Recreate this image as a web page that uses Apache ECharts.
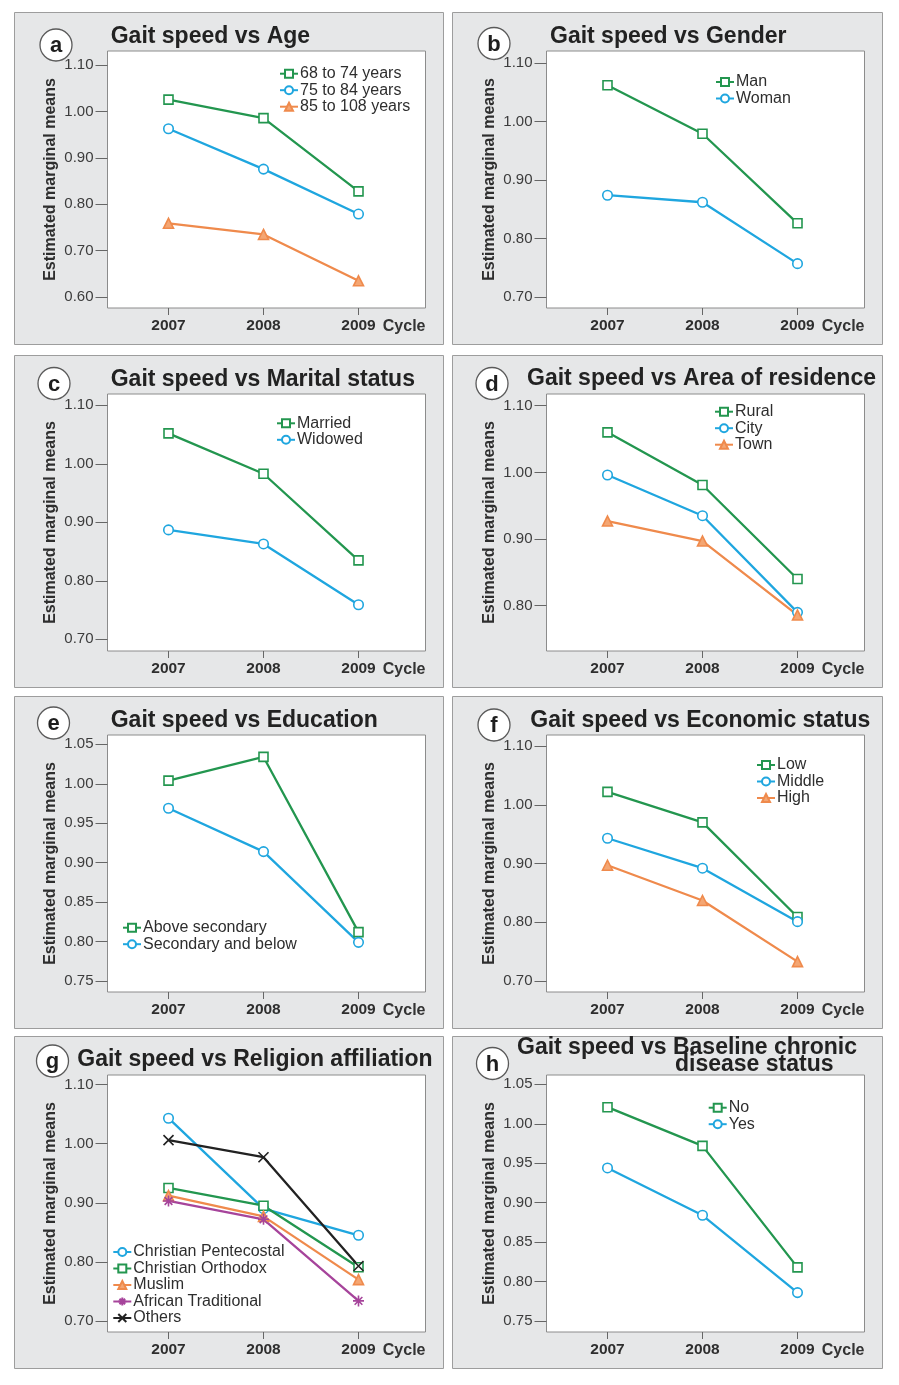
<!DOCTYPE html>
<html><head><meta charset="utf-8">
<script src="https://cdn.jsdelivr.net/npm/echarts@6/dist/echarts.min.js"></script>
<style>html,body{margin:0;padding:0;background:#fff}#c{width:899px;height:1385px}</style>
</head><body><div id="c"></div>
<script>
// ---------------- DATA ----------------
const cycles = ['2007', '2008', '2009'];

// a — Age
const age68to74 = [1.026, 0.986, 0.828];
const age75to84 = [0.963, 0.876, 0.779];
const age85to108 = [0.759, 0.735, 0.635];
const ageTicks = [0.60, 0.70, 0.80, 0.90, 1.00, 1.10];

// b — Gender
const genderMan = [1.062, 0.979, 0.826];
const genderWoman = [0.874, 0.862, 0.757];
const genderTicks = [0.70, 0.80, 0.90, 1.00, 1.10];

// c — Marital status
const maritalMarried = [1.052, 0.983, 0.835];
const maritalWidowed = [0.887, 0.863, 0.759];
const maritalTicks = [0.70, 0.80, 0.90, 1.00, 1.10];

// d — Area of residence
const areaRural = [1.060, 0.981, 0.840];
const areaCity = [0.996, 0.935, 0.790];
const areaTown = [0.927, 0.897, 0.786];
const areaTicks = [0.80, 0.90, 1.00, 1.10];

// e — Education
const eduAbove = [1.004, 1.034, 0.812];
const eduBelow = [0.969, 0.914, 0.799];
const eduTicks = [0.75, 0.80, 0.85, 0.90, 0.95, 1.00, 1.05];

// f — Economic status
const econLow = [1.022, 0.970, 0.809];
const econMiddle = [0.943, 0.892, 0.801];
const econHigh = [0.897, 0.837, 0.733];
const econTicks = [0.70, 0.80, 0.90, 1.00, 1.10];

// g — Religion affiliation
const relPentecostal = [1.043, 0.890, 0.845];
const relOrthodox = [0.925, 0.895, 0.791];
const relMuslim = [0.912, 0.877, 0.770];
const relAfrican = [0.903, 0.872, 0.734];
const relOthers = [1.006, 0.977, 0.793];
const relTicks = [0.70, 0.80, 0.90, 1.00, 1.10];

// h — Baseline chronic disease status
const chronicNo = [1.021, 0.972, 0.818];
const chronicYes = [0.944, 0.884, 0.786];
const chronicTicks = [0.75, 0.80, 0.85, 0.90, 0.95, 1.00, 1.05];

const panels = [
  { letter: 'a', title: ['Gait speed vs Age'], ticks: ageTicks, series: [
    ['68 to 74 years', age68to74, 'green'], ['75 to 84 years', age75to84, 'blue'], ['85 to 108 years', age85to108, 'orange']] },
  { letter: 'b', title: ['Gait speed vs Gender'], ticks: genderTicks, series: [
    ['Man', genderMan, 'green'], ['Woman', genderWoman, 'blue']] },
  { letter: 'c', title: ['Gait speed vs Marital status'], ticks: maritalTicks, series: [
    ['Married', maritalMarried, 'green'], ['Widowed', maritalWidowed, 'blue']] },
  { letter: 'd', title: ['Gait speed vs Area of residence'], ticks: areaTicks, series: [
    ['Rural', areaRural, 'green'], ['City', areaCity, 'blue'], ['Town', areaTown, 'orange']] },
  { letter: 'e', title: ['Gait speed vs Education'], ticks: eduTicks, series: [
    ['Above secondary', eduAbove, 'green'], ['Secondary and below', eduBelow, 'blue']] },
  { letter: 'f', title: ['Gait speed vs Economic status'], ticks: econTicks, series: [
    ['Low', econLow, 'green'], ['Middle', econMiddle, 'blue'], ['High', econHigh, 'orange']] },
  { letter: 'g', title: ['Gait speed vs Religion affiliation'], ticks: relTicks, series: [
    ['Christian Pentecostal', relPentecostal, 'blue'], ['Christian Orthodox', relOrthodox, 'green'],
    ['Muslim', relMuslim, 'orange'], ['African Traditional', relAfrican, 'purple'], ['Others', relOthers, 'black']] },
  { letter: 'h', title: ['Gait speed vs Baseline chronic', 'disease status'], ticks: chronicTicks, series: [
    ['No', chronicNo, 'green'], ['Yes', chronicYes, 'blue']] }
];

// ---------------- LAYOUT / STYLE ----------------
const FONT = '"Liberation Sans", Arial, Helvetica, sans-serif';
const colX = [14, 452];
const rowY = [12, 355, 696, 1036];
const panelW = [429, 430];
const panelH = 332;
const boxLeft = [93.5, 94.5];
const boxTop = 39, boxW = 318, boxH = 257;
const x2007 = 61, x2009 = 251;

const layout = [
  { col: 0, row: 0, tickPx: [53.3, 285], legend: [265, 61.7], title: [[96.7, 25]], letter: [42, 33] },
  { col: 1, row: 0, tickPx: [51, 285], legend: [263, 70], title: [[98, 25]], letter: [42, 31.5] },
  { col: 0, row: 1, tickPx: [50.3, 284.3], legend: [262, 68.3], title: [[96.7, 25]], letter: [40, 28.5] },
  { col: 1, row: 1, tickPx: [50.7, 250.7], legend: [262, 56.7], title: [[75, 23.3]], letter: [40, 28.5] },
  { col: 0, row: 2, tickPx: [48.3, 285], legend: [108, 231.7], title: [[96.7, 25]], letter: [39.5, 27] },
  { col: 1, row: 2, tickPx: [50, 285], legend: [304, 69], title: [[78.3, 25]], letter: [42, 29] },
  { col: 0, row: 3, tickPx: [48.5, 285], legend: [98.3, 216], title: [[63.3, 23.3]], letter: [38.5, 25] },
  { col: 1, row: 3, tickPx: [48.3, 285], legend: [255.7, 71.7], title: [[65, 11.7], [223, 29]], letter: [40.5, 27.5] }
];

const STY = {
  green:  { color: '#23964f', fill: '#ffffff', symbol: 'rect', size: 9 },
  blue:   { color: '#1fa6df', fill: '#ffffff', symbol: 'circle', size: 9.5 },
  orange: { color: '#ef8a4c', fill: '#f4a673', symbol: 'triangle', size: 10 },
  purple: { color: '#a6449b', fill: '#a6449b', symbol: 'path://M5,0L5,10M0,5L10,5M1.5,1.5L8.5,8.5M8.5,1.5L1.5,8.5', size: 11 },
  black:  { color: '#222222', fill: '#222222', symbol: 'path://M0,0L10,10M10,0L0,10', size: 10 }
};

// ---------------- BUILD OPTION ----------------
const option = {
  backgroundColor: '#ffffff',
  animation: false,
  textStyle: { fontFamily: FONT },
  title: [], grid: [], xAxis: [], yAxis: [], legend: [], series: [], graphic: []
};

const yearsNum = cycles.map(Number);

panels.forEach((p, i) => {
  const L = layout[i];
  const ox = colX[L.col], oy = rowY[L.row];
  const bl = boxLeft[L.col];

  option.graphic.push({ type: 'rect', z: -10, silent: true,
    shape: { x: ox + 0.5, y: oy + 0.5, width: panelW[L.col], height: panelH },
    style: { fill: '#e6e7e8', stroke: '#9d9d9d', lineWidth: 1 } });

  option.graphic.push({ type: 'circle', z: 50, silent: true,
    shape: { cx: ox + L.letter[0], cy: oy + L.letter[1], r: 16 },
    style: { fill: '#ffffff', stroke: '#5a5a5a', lineWidth: 1.3 } });
  option.graphic.push({ type: 'text', z: 51, silent: true,
    x: ox + L.letter[0], y: oy + L.letter[1] + 1,
    style: { text: p.letter, fill: '#1e1e1e', font: 'bold 22px ' + FONT, align: 'center', verticalAlign: 'middle' } });

  option.graphic.push({ type: 'text', z: 51, silent: true,
    x: ox + bl + boxW, y: oy + 315,
    style: { text: 'Cycle', fill: '#333333', font: 'bold 16px ' + FONT, align: 'right', verticalAlign: 'middle' } });

  p.title.forEach((t, k) => {
    option.title.push({ text: t, left: ox + L.title[k][0], top: oy + L.title[k][1] - 12, padding: 0,
      textStyle: { fontSize: 23, fontWeight: 'bold', color: '#222222', fontFamily: FONT, lineHeight: 24 } });
  });

  const tv = p.ticks;
  const vTop = tv[tv.length - 1], vBot = tv[0];
  const ppu = (L.tickPx[1] - L.tickPx[0]) / (vTop - vBot);
  const yMax = vTop + (L.tickPx[0] - boxTop) / ppu;
  const yMin = vBot - (boxTop + boxH - L.tickPx[1]) / ppu;
  const xppu = (x2009 - x2007) / (yearsNum[2] - yearsNum[0]);
  const xMin = yearsNum[0] - x2007 / xppu;
  const xMax = yearsNum[2] + (boxW - x2009) / xppu;

  option.grid.push({ left: ox + bl, top: oy + boxTop, width: boxW, height: boxH, show: true,
    backgroundColor: '#ffffff', borderColor: '#8c8c8c', borderWidth: 1, containLabel: false });

  option.xAxis.push({ type: 'value', gridIndex: i, min: xMin, max: xMax,
    axisLine: { show: false }, splitLine: { show: false },
    axisTick: { show: true, length: 7, customValues: yearsNum, lineStyle: { color: '#666666', width: 1 } },
    axisLabel: { customValues: yearsNum, formatter: v => String(Math.round(v)), margin: 10,
      fontSize: 15.5, fontWeight: 'bold', color: '#2e2e2e', fontFamily: FONT } });

  option.yAxis.push({ type: 'value', gridIndex: i, min: yMin, max: yMax,
    name: 'Estimated marginal means', nameLocation: 'middle', nameGap: 49,
    nameTextStyle: { fontSize: 16, fontWeight: 'bold', color: '#2e2e2e', fontFamily: FONT },
    axisLine: { show: false }, splitLine: { show: false },
    axisTick: { show: true, length: 12, customValues: tv, lineStyle: { color: '#666666', width: 1 } },
    axisLabel: { customValues: tv, formatter: v => v.toFixed(2), margin: 14,
      fontSize: 15, color: '#3c3c3c', fontFamily: FONT } });

  option.legend.push({ orient: 'vertical', left: ox + L.legend[0], top: oy + L.legend[1] - 8,
    padding: 0, itemGap: 0.5, itemWidth: 18, itemHeight: 10, selectedMode: false,
    data: p.series.map(s => s[0]),
    textStyle: { fontSize: 16, color: '#2e2e2e', fontFamily: FONT, lineHeight: 16, padding: [0, 0, 0, -3] } });

  p.series.forEach(s => {
    const st = STY[s[2]];
    option.series.push({ type: 'line', name: s[0], xAxisIndex: i, yAxisIndex: i, clip: false,
      data: s[1].map((v, k) => [yearsNum[k], v]),
      symbol: st.symbol, symbolSize: st.size, showSymbol: true,
      lineStyle: { color: st.color, width: 2.3 },
      itemStyle: { color: st.fill, borderColor: st.color, borderWidth: 1.6 },
      emphasis: { disabled: true } });
  });
});

const chart = echarts.init(document.getElementById('c'));
chart.setOption(option);
</script>
</body></html>
